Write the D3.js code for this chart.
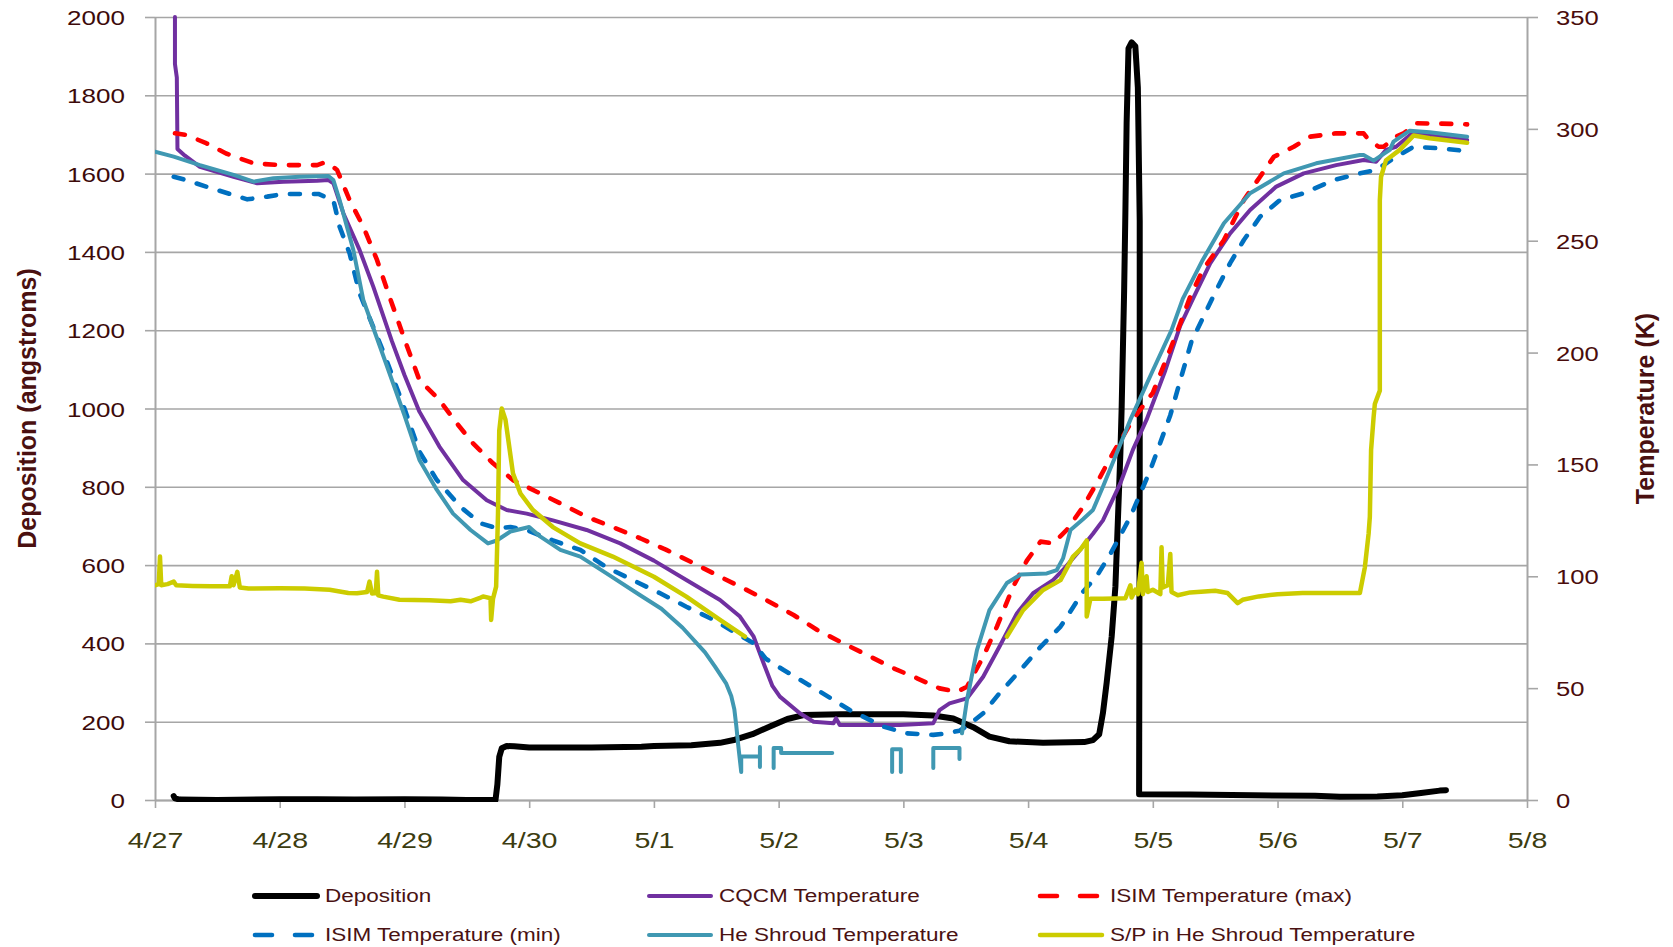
<!DOCTYPE html>
<html>
<head>
<meta charset="utf-8">
<script src="https://cdn.jsdelivr.net/npm/d3@7"></script>
<style>
  body { margin: 0; background: #fff; }
  svg { display: block; }
</style>
</head>
<body>
<svg width="1673" height="947"></svg>
<script>
// x values are days after 4/27
const dateLabels = ["4/27", "4/28", "4/29", "4/30", "5/1", "5/2", "5/3", "5/4", "5/5", "5/6", "5/7", "5/8"];
const leftTicks = [0, 200, 400, 600, 800, 1000, 1200, 1400, 1600, 1800, 2000];
const rightTicks = [0, 50, 100, 150, 200, 250, 300, 350];

// deposition, angstroms (left axis)
const deposition = [
  [0.15,10],[0.16,4],[0.2,1],[0.5,0],[1.0,2],[1.3,2],[1.6,1],[2.0,2],[2.3,1],[2.5,0],[2.73,0],
  [2.745,40],[2.76,110],[2.78,132],[2.82,138],[2.88,137],[3.0,134],[3.5,134],[3.9,136],[4.0,138],
  [4.3,140],[4.53,146],[4.65,154],[4.79,168],[4.93,188],[5.07,207],[5.2,217],[5.5,219],[6.0,219],
  [6.24,216],[6.40,208],[6.56,186],[6.69,162],[6.85,150],[7.12,146],[7.45,148],[7.52,153],[7.57,168],
  [7.60,222],[7.63,300],[7.67,417],[7.70,545],[7.72,715],[7.74,886],[7.75,1000],[7.76,1150],
  [7.77,1300],[7.78,1500],[7.79,1730],[7.805,1920],[7.83,1935],[7.86,1925],[7.88,1820],[7.895,1480],
  [7.895,830],[7.89,15],[8.3,14],[8.8,12],[9.3,11],[9.5,8],[9.8,9],[10.0,12],[10.15,18],[10.3,24],[10.35,25]
];

// temperatures, K (right axis)
const cqcm = [
  [0.16,350],[0.16,329],[0.175,323],[0.18,291],[0.24,288],[0.36,283],[0.63,278.6],[0.82,275.7],
  [1.03,276.4],[1.30,276.8],[1.39,277.1],[1.43,275.7],[1.51,262.3],[1.64,245.9],[1.75,229.5],
  [1.9,205],[2.0,190],[2.12,173.6],[2.28,158],[2.47,143],[2.66,134],[2.82,129.6],[2.98,128],
  [3.19,125],[3.46,120.7],[3.73,114.7],[4.0,107],[4.26,98.3],[4.53,89.4],[4.69,82],[4.80,73],
  [4.88,61],[4.95,51],[5.01,46.2],[5.17,38.8],[5.28,35],[5.44,34.3],[5.46,36.5],[5.49,33.5],
  [5.71,33.5],[5.97,33.5],[6.24,34.3],[6.29,40.2],[6.37,43.2],[6.51,45.4],[6.64,55.1],[6.77,68.5],
  [6.91,83.4],[7.04,92.4],[7.2,98.3],[7.28,102.8],[7.39,110],[7.52,119],[7.6,125],[7.74,141.6],
  [7.84,156.5],[7.95,170],[8.1,192],[8.22,212],[8.33,225],[8.46,239.9],[8.62,253.3],[8.78,263.7],
  [8.99,274.2],[9.21,280.1],[9.47,283.8],[9.69,286.1],[9.79,285.3],[9.87,290.6],[9.95,292],
  [10.08,298],[10.3,296.5],[10.52,295]
];

const isimMax = [
  [0.16,298],[0.25,297.3],[0.41,293.6],[0.57,289],[0.79,284.6],[1.0,283.8],[1.30,283.8],[1.36,285],
  [1.39,284.6],[1.46,281.6],[1.56,268.2],[1.67,256.3],[1.78,241.4],[1.88,225],[2.0,206],[2.12,187.7],
  [2.28,178.8],[2.42,168.4],[2.55,159.4],[2.71,150.5],[2.87,143],[3.06,137.8],[3.25,132.6],
  [3.46,126.6],[3.67,122],[3.89,117],[4.10,111.8],[4.32,105.8],[4.53,99.8],[4.72,94.6],[4.90,89.4],
  [5.12,82.7],[5.31,76],[5.52,70],[5.71,64.8],[5.92,58.9],[6.11,54.4],[6.29,49.9],[6.43,48.4],
  [6.51,50.6],[6.64,64],[6.75,77.5],[6.88,95.3],[6.99,107],[7.1,115.5],[7.2,114.7],[7.31,120.7],
  [7.44,131],[7.55,141.6],[7.68,155],[7.84,170],[8.0,182],[8.2,210],[8.30,225],[8.40,236.9],
  [8.57,250.3],[8.73,268.2],[8.86,278.6],[8.97,287.5],[9.13,292],[9.26,296.5],[9.47,298],[9.69,298],
  [9.72,295.8],[9.81,292],[9.85,292],[9.95,296.5],[10.01,298],[10.12,302.5],[10.44,302.2],[10.52,302]
];

const isimMin = [
  [0.15,278.6],[0.25,277.1],[0.41,274.2],[0.63,270.4],[0.74,268.5],[0.90,269.7],[1.03,270.9],
  [1.31,270.9],[1.43,268.2],[1.48,256.3],[1.56,244.4],[1.64,226.5],[1.84,199],[2.0,175],[2.12,155.7],
  [2.26,143],[2.45,131],[2.61,123.7],[2.74,121.5],[2.85,122],[2.98,120.7],[3.19,116],[3.41,111.8],
  [3.62,104],[3.83,98.3],[4.05,92.4],[4.26,86.4],[4.48,80.5],[4.64,75.2],[4.80,70],[4.90,63],
  [5.04,58.1],[5.31,49.2],[5.57,40.2],[5.84,32.8],[6.03,29.8],[6.24,29.1],[6.35,29.8],[6.45,31],
  [6.51,33],[6.64,38.8],[6.77,47.7],[6.94,58.1],[7.10,68.5],[7.26,77.5],[7.44,93],[7.55,100],
  [7.66,110],[7.82,126.6],[7.98,147.5],[8.14,172],[8.31,205],[8.51,228],[8.62,240],[8.73,250.3],
  [8.86,260.7],[9.02,268.2],[9.21,271.2],[9.45,277.1],[9.66,280.1],[9.79,281.6],[9.95,287.5],
  [10.09,292],[10.30,291.3],[10.49,290.2]
];

// null = gap in the record
const heShroud = [
  [0,289.8],[0.15,287.6],[0.36,283.8],[0.63,279.4],[0.79,276.4],[0.95,277.9],[1.16,278.6],[1.39,278.9],
  [1.43,277.1],[1.48,268.2],[1.59,245.9],[1.67,223.5],[1.84,197],[2.0,172],[2.12,152],[2.26,138.6],
  [2.39,128],[2.53,120.7],[2.67,114.7],[2.74,116],[2.85,120],[3.0,122],[3.09,117.7],[3.25,111.8],
  [3.41,108.8],[3.62,101.3],[3.89,91.5],[4.06,85.5],[4.23,77],[4.41,66],[4.49,59.6],[4.58,52],
  [4.62,46.5],[4.645,40.5],[4.66,33.4],[4.675,25],[4.70,12.5],[4.70,19.4],[4.85,19.4],[4.85,23.7],
  [4.85,14.8],null,
  [4.96,14.3],[4.96,23.2],[5.02,23.2],[5.02,21],[5.43,21],null,
  [5.91,12.5],[5.91,22.7],[5.98,22.7],[5.98,12.5],null,
  [6.24,14.3],[6.24,23.2],[6.45,23.2],[6.45,18.3],null,
  [6.47,29.8],[6.51,44.7],[6.59,67],[6.69,84.9],[6.83,97],[6.94,100.8],[7.15,101.3],[7.23,102.8],
  [7.28,108],[7.34,120.7],[7.44,125.5],[7.52,129.6],[7.6,140],[7.71,155],[7.82,170],[8.0,192],
  [8.15,210],[8.24,224],[8.40,241.4],[8.57,257.8],[8.78,271.2],[9.05,280.1],[9.31,284.6],[9.66,288.3],
  [9.69,288.3],[9.77,285.8],[9.90,290.6],[9.93,294.3],[10.06,299.2],[10.22,298.5],[10.52,296.5]
];

const spShroud = [
  [0,96],[0.03,96.5],[0.04,108.8],[0.05,96],[0.1,96.5],[0.15,97.6],[0.17,96],[0.3,95.7],[0.45,95.5],
  [0.6,95.5],[0.615,100],[0.63,96],[0.66,102],[0.68,95],[0.75,94.5],[1.0,94.6],[1.2,94.5],[1.4,94],
  [1.55,92.5],[1.62,92.4],[1.70,93],[1.72,97.6],[1.74,92.3],[1.77,92.5],[1.78,102],[1.79,91.5],
  [1.83,90.9],[1.96,89.5],[2.2,89.3],[2.37,88.8],[2.45,89.5],[2.53,88.8],[2.6,90.2],[2.63,91],
  [2.69,90.2],[2.695,80.5],[2.71,90],[2.735,95.4],[2.75,128],[2.76,165],[2.78,175],[2.81,170],
  [2.83,162],[2.87,146],[2.93,137],[3.03,129.6],[3.19,122],[3.41,114.7],[3.67,108.8],[4.0,99.8],
  [4.26,90.9],[4.53,80.5],[4.73,73],null,
  [6.83,73],[6.96,84.9],[7.12,93.9],[7.26,98.3],[7.36,108.8],[7.42,112],[7.47,116],[7.47,82],
  [7.50,90],[7.6,90],[7.78,90.2],[7.82,96],[7.83,90.5],[7.86,94],[7.88,92],[7.91,106],[7.92,92],
  [7.95,100],[7.96,93],[8.0,94],[8.06,92],[8.07,113],[8.08,95],[8.12,96],[8.14,110],[8.15,93],
  [8.2,91.5],[8.3,92.8],[8.5,93.5],[8.6,92.5],[8.68,88],[8.72,89.5],[8.85,91],[9.0,92],[9.2,92.5],
  [9.4,92.5],[9.66,92.5],[9.7,104],[9.73,119],[9.74,126.6],[9.75,156.5],[9.77,171],[9.78,177],
  [9.82,183],[9.82,268],[9.83,278.6],[9.87,286],[9.98,290.6],[10.09,297],[10.22,295.8],[10.52,293.8]
];

const x0 = 155, x1 = 1527, yTop = 17, yBot = 800;
const gridGray = "#a6a6a6";
const font = "Liberation Sans, Arial, sans-serif";

const svg = d3.select("svg");

const x = d3.scaleLinear().domain([0, 11]).range([x0, x1]);
const yL = d3.scaleLinear().domain([0, 2000]).range([yBot, yTop]);
const yR = d3.scaleLinear().domain([0, 350]).range([yBot, yTop]);

// gridlines
svg.append("g")
  .attr("transform", `translate(${x0},0)`)
  .call(d3.axisLeft(yL).tickValues(leftTicks).tickSize(-(x1 - x0)).tickFormat(""))
  .call(g => g.select(".domain").remove())
  .call(g => g.selectAll(".tick line").attr("stroke", gridGray).attr("stroke-width", 1.6));

// axes
const gL = svg.append("g")
  .attr("transform", `translate(${x0},0)`)
  .call(d3.axisLeft(yL).tickValues(leftTicks).tickFormat(d3.format("d")).tickSize(10).tickSizeOuter(0));
gL.select(".domain").attr("stroke", gridGray).attr("stroke-width", 2);
gL.selectAll(".tick line").attr("stroke", gridGray).attr("stroke-width", 1.6);
gL.selectAll(".tick text")
  .attr("x", 0).attr("dy", "0.36em")
  .attr("transform", "translate(-30,0) scale(1.24,1)")
  .attr("font-family", font)
  .attr("font-size", 21).attr("fill", "#3d0a0a");

const gR = svg.append("g")
  .attr("transform", `translate(${x1},0)`)
  .call(d3.axisRight(yR).tickValues(rightTicks).tickSize(11).tickSizeOuter(0));
gR.select(".domain").attr("stroke", gridGray).attr("stroke-width", 2);
gR.selectAll(".tick line").attr("stroke", gridGray).attr("stroke-width", 1.6);
gR.selectAll(".tick text")
  .attr("x", 0).attr("dy", "0.36em")
  .attr("transform", "translate(29,0) scale(1.22,1)")
  .attr("font-family", font)
  .attr("font-size", 21).attr("fill", "#4a0c0c");

const gB = svg.append("g")
  .attr("transform", `translate(0,${yBot})`)
  .call(d3.axisBottom(x).tickValues(d3.range(dateLabels.length)).tickFormat(i => dateLabels[i]).tickSize(8).tickSizeOuter(0));
gB.select(".domain").attr("stroke", gridGray).attr("stroke-width", 2);
gB.selectAll(".tick line").attr("stroke", gridGray).attr("stroke-width", 1.6);
gB.selectAll(".tick text")
  .attr("y", 40).attr("dy", "0.36em")
  .attr("transform", "scale(1.3,1)")
  .attr("font-family", font)
  .attr("font-size", 22).attr("fill", "#3c3c10");

// axis titles
svg.append("text")
  .attr("transform", `translate(27,${(yTop + yBot) / 2}) rotate(-90)`)
  .attr("text-anchor", "middle").attr("dy", "0.35em")
  .attr("font-family", font)
  .attr("font-weight", "bold").attr("font-size", 25).attr("fill", "#4a1010")
  .text("Deposition (angstroms)");

svg.append("text")
  .attr("transform", `translate(1645,${(yTop + yBot) / 2}) rotate(-90)`)
  .attr("text-anchor", "middle").attr("dy", "0.35em")
  .attr("font-family", font)
  .attr("font-weight", "bold").attr("font-size", 25).attr("fill", "#4a1010")
  .text("Temperature (K)");

// series
svg.append("clipPath").attr("id", "plot")
  .append("rect").attr("x", x0).attr("y", yTop - 2).attr("width", x1 - x0).attr("height", yBot - yTop + 4);

const series = [
  { name: "Deposition", data: deposition, y: yL, color: "#000000", width: 6, dash: null, legendDash: null },
  { name: "CQCM Temperature", data: cqcm, y: yR, color: "#7030a0", width: 4, dash: null, legendDash: null },
  { name: "ISIM Temperature (max)", data: isimMax, y: yR, color: "#ff0000", width: 4.6, dash: "10,14", legendDash: "17,23" },
  { name: "ISIM Temperature (min)", data: isimMin, y: yR, color: "#0070c0", width: 4.6, dash: "10,14", legendDash: "17,23" },
  { name: "He Shroud Temperature", data: heShroud, y: yR, color: "#4098b2", width: 4, dash: null, legendDash: null },
  { name: "S/P in He Shroud Temperature", data: spShroud, y: yR, color: "#cccc00", width: 4.5, dash: null, legendDash: null }
];

const plot = svg.append("g").attr("clip-path", "url(#plot)");

series.forEach(s => {
  const line = d3.line()
    .defined(d => d !== null)
    .x(d => x(d[0]))
    .y(d => s.y(d[1]));
  plot.append("path")
    .datum(s.data)
    .attr("d", line)
    .attr("fill", "none")
    .attr("stroke", s.color)
    .attr("stroke-width", s.width)
    .attr("stroke-linejoin", "round")
    .attr("stroke-linecap", "round")
    .attr("stroke-dasharray", s.dash);
});

// legend, 3 columns x 2 rows
const legCols = [253, 647, 1038];
const legRows = [896, 935];

const leg = svg.selectAll(".leg")
  .data(series)
  .enter()
  .append("g")
  .attr("class", "leg")
  .attr("transform", (d, i) => `translate(${legCols[i % 3]},${legRows[Math.floor(i / 3)]})`);

leg.append("line")
  .attr("x1", 2).attr("x2", 64)
  .attr("stroke", d => d.color)
  .attr("stroke-width", d => d.width)
  .attr("stroke-linecap", "round")
  .attr("stroke-dasharray", d => d.legendDash);

leg.append("text")
  .attr("dy", "0.35em")
  .attr("transform", "translate(72,0) scale(1.25,1)")
  .attr("font-family", font)
  .attr("font-size", 18).attr("fill", "#4a1212")
  .text(d => d.name);
</script>
</body>
</html>
